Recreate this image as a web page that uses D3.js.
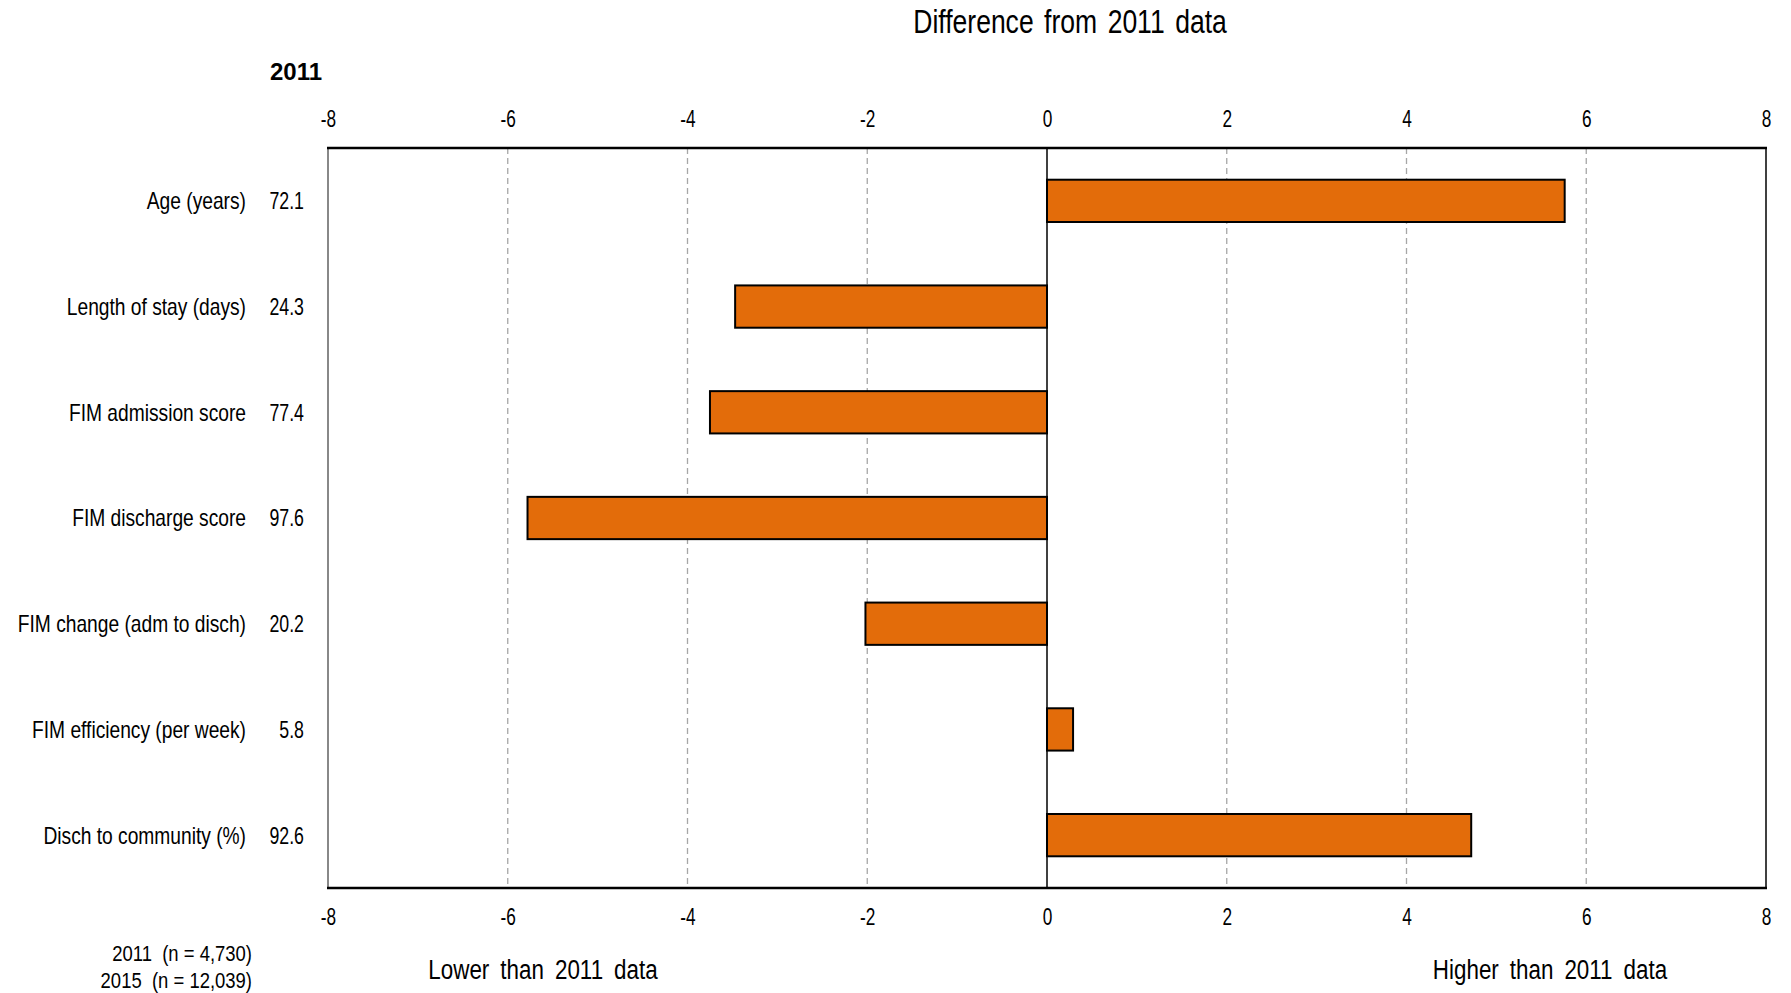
<!DOCTYPE html>
<html>
<head>
<meta charset="utf-8">
<script src="https://cdn.jsdelivr.net/npm/d3@7"></script>
<style>
  html, body { margin: 0; padding: 0; background: #fff; }
  svg { display: block; }
  text { font-family: 'Liberation Sans', Arial, sans-serif; fill: #000; }
</style>
</head>
<body>
<svg id="chart" width="1791" height="993"></svg>
<script>
// ---- data ----
const categories = [
  "Age (years)",
  "Length of stay (days)",
  "FIM admission score",
  "FIM discharge score",
  "FIM change (adm to disch)",
  "FIM efficiency (per week)",
  "Disch to community (%)"
];
const baseline2011 = ["72.1", "24.3", "77.4", "97.6", "20.2", "5.8", "92.6"];
const differences = [5.76, -3.47, -3.75, -5.78, -2.02, 0.29, 4.72];
const tickValues = [-8, -6, -4, -2, 0, 2, 4, 6, 8];
const titleText = "Difference from 2011 data";
const yearLabel = "2011";
const sampleNotes = ["2011  (n = 4,730)", "2015  (n = 12,039)"];
const sideLabels = ["Lower than 2011 data", "Higher than 2011 data"];

// ---- layout ----
const SX = 0.8; // horizontal condensing to emulate a narrow face
const svg = d3.select("#chart");
const pL = 328, pR = 1766, pT = 148, pB = 888;
const x = d3.scaleLinear().domain([-8, 8]).range([pL, pR]);
const y = d3.scaleBand().domain(categories).range([pT, pB]).paddingInner(0.6).paddingOuter(0.3);
const at = (tx, ty, s = SX) => `translate(${tx},${ty}) scale(${s},1)`;

// gridlines
svg.append("g").selectAll("line")
  .data(tickValues.filter(t => t !== 0 && t !== -8 && t !== 8))
  .join("line")
  .attr("x1", d => x(d)).attr("x2", d => x(d))
  .attr("y1", pT).attr("y2", pB)
  .attr("stroke", "#a6a6a6").attr("stroke-width", 1.3)
  .attr("stroke-dasharray", "6,4");

// bars
svg.append("g").selectAll("rect")
  .data(categories.map((c, i) => ({ c, v: differences[i] })))
  .join("rect")
  .attr("x", d => x(Math.min(0, d.v)))
  .attr("width", d => Math.abs(x(d.v) - x(0)))
  .attr("y", d => y(d.c))
  .attr("height", y.bandwidth())
  .attr("fill", "#e36c0a")
  .attr("stroke", "#000").attr("stroke-width", 2);

// zero line
svg.append("line")
  .attr("x1", x(0)).attr("x2", x(0)).attr("y1", pT).attr("y2", pB)
  .attr("stroke", "#000").attr("stroke-width", 1.5);

// frame
svg.append("line").attr("x1", pL).attr("x2", pL).attr("y1", pT).attr("y2", pB)
  .attr("stroke", "#888").attr("stroke-width", 2);
svg.append("line").attr("x1", pR).attr("x2", pR).attr("y1", pT).attr("y2", pB)
  .attr("stroke", "#000").attr("stroke-width", 1.5);
svg.append("line").attr("x1", pL - 1).attr("x2", pR + 1).attr("y1", pT).attr("y2", pT)
  .attr("stroke", "#000").attr("stroke-width", 2.5);
svg.append("line").attr("x1", pL - 1).attr("x2", pR + 1).attr("y1", pB).attr("y2", pB)
  .attr("stroke", "#000").attr("stroke-width", 2.5);

// axes
const axTop = d3.axisTop(x).tickValues(tickValues).tickSize(0).tickPadding(21);
const axBot = d3.axisBottom(x).tickValues(tickValues).tickSize(0).tickPadding(21);
const gTop = svg.append("g").attr("transform", `translate(0,${pT})`).call(axTop);
const gBot = svg.append("g").attr("transform", `translate(0,${pB})`).call(axBot);
[gTop, gBot].forEach(g => {
  g.attr("font-family", null).attr("font-size", null);
  g.select(".domain").remove();
  g.selectAll("text").attr("font-size", 23).attr("fill", "#000")
    .attr("transform", `scale(0.75,1)`)
    .text(d => d < 0 ? "-" + Math.abs(d) : String(d));
});

// category labels
svg.append("g").selectAll("text")
  .data(categories).join("text")
  .attr("transform", d => at(246, y(d) + y.bandwidth() / 2))
  .attr("dy", "0.35em")
  .attr("text-anchor", "end")
  .attr("font-size", 24)
  .text(d => d);

// 2011 values
svg.append("g").selectAll("text")
  .data(categories.map((c, i) => ({ c, v: baseline2011[i] }))).join("text")
  .attr("transform", d => at(304, y(d.c) + y.bandwidth() / 2, 0.74))
  .attr("dy", "0.35em")
  .attr("text-anchor", "end")
  .attr("font-size", 24)
  .text(d => d.v);

// title
svg.append("text")
  .attr("transform", at(1070, 33, 0.78))
  .attr("text-anchor", "middle")
  .attr("font-size", 34).attr("word-spacing", 4)
  .text(titleText);

// 2011 header
svg.append("text")
  .attr("x", 270).attr("y", 80)
  .attr("font-weight", "bold").attr("font-size", 24)
  .text(yearLabel);

// side labels
svg.append("text")
  .attr("transform", at(543, 979))
  .attr("text-anchor", "middle")
  .attr("font-size", 28).attr("word-spacing", 6)
  .text(sideLabels[0]);
svg.append("text")
  .attr("transform", at(1550, 979))
  .attr("text-anchor", "middle")
  .attr("font-size", 28).attr("word-spacing", 6)
  .text(sideLabels[1]);

// sample notes
svg.append("g").selectAll("text")
  .data(sampleNotes).join("text")
  .attr("transform", (d, i) => at(252, 961 + i * 27, 0.84))
  .attr("text-anchor", "end")
  .attr("font-size", 22)
  .style("white-space", "pre")
  .text(d => d);
</script>
</body>
</html>
